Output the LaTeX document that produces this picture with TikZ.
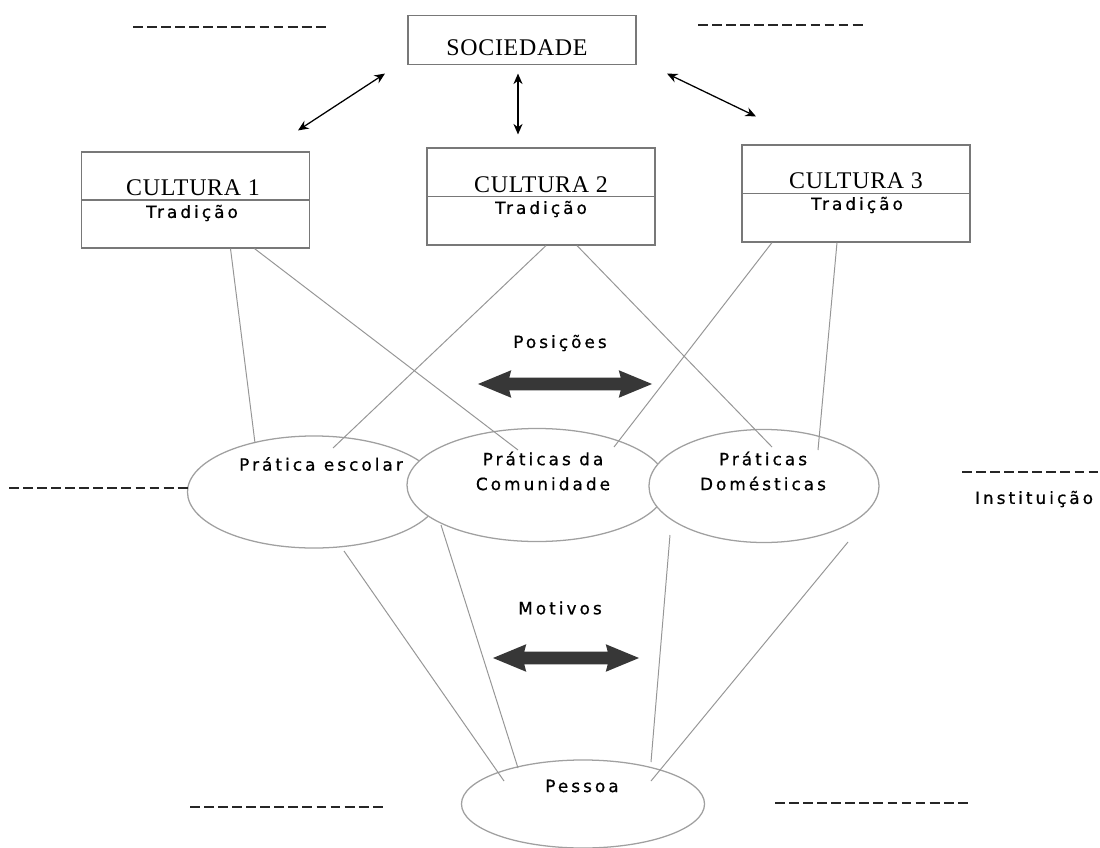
\documentclass[tikz,border=0pt]{standalone}
\usepackage{fontspec}
\setmainfont{Liberation Serif}[LetterSpace=3]
\newfontfamily\tagfont{DejaVu Sans}[LetterSpace=18,FakeBold=0.8]
\usepackage{tikz}
\usetikzlibrary{calc,arrows.meta,shapes.geometric,shapes.arrows}
\definecolor{boxgray}{RGB}{120,120,120}
\definecolor{linegray}{RGB}{150,150,150}
\definecolor{ringgray}{RGB}{160,160,160}
\definecolor{arrowdark}{RGB}{55,55,55}

\begin{document}
\begin{tikzpicture}[x=0.025cm,y=-0.025cm,
    box/.style={draw=boxgray,line width=0.8pt,minimum width=5.7cm,inner sep=0pt},
    ring/.style={ellipse,draw=ringgray,line width=0.9pt,fill=white,inner sep=0pt},
    link/.style={draw=linegray,line width=0.7pt},
    tie/.style={{Stealth[length=7.5pt,width=6.5pt]}-{Stealth[length=7.5pt,width=6.5pt]},line width=0.9pt},
    fat/.style={double arrow,fill=arrowdark,inner xsep=0pt,inner ysep=0.15cm,
        minimum width=0.675cm,double arrow head extend=0.1875cm,
        double arrow tip angle=45,double arrow head indent=0.05cm},
    serif/.style={font=\fontsize{17}{20}\selectfont},
    tag/.style={font=\tagfont\fontsize{12}{17.7}\selectfont,align=center},
    fillin/.style={line width=1.1pt,draw=black!85,dash pattern=on 7pt off 3pt}]
    \useasboundingbox (0,0) rectangle (1100,848);
    % topo
    \node[box,minimum height=1.225cm] (soc) at (522,40) {};
    \node[serif] (soctext) at (517,48) {SOCIEDADE};
    \node[box,minimum height=2.4cm] (c1) at (195.5,200) {};
    \node[box,minimum height=2.425cm] (c2) at (541,196.5) {};
    \node[box,minimum height=2.425cm] (c3) at (856,193.5) {};
    \foreach \c in {c1,c2,c3}
        \draw[draw=boxgray,line width=0.8pt] (\c.west) -- (\c.east);
    \node[serif] (c1name) at (193,188) {CULTURA 1};
    \node[serif] (c2name) at (541,184.5) {CULTURA 2};
    \node[serif] (c3name) at (856,181) {CULTURA 3};
    \node[tag] (c1trad) at (192,213) {Tradição};
    \node[tag] (c2trad) at (541,209) {Tradição};
    \node[tag] (c3trad) at (857,205) {Tradição};
    \draw[tie] ($(soc.south)+(-137,8.5)$) -- ($(c1.north)+(102.5,-21)$);
    \draw[tie] ($(soc.south)+(-4,8.5)$) -- ($(c2.north)+(-23,-13)$);
    \draw[tie] ($(soc.south)+(145,8.5)$) -- ($(c3.north)+(-100,-28)$);
    % praticas
    \node[ring,minimum width=6.325cm,minimum height=2.8cm] (escolar) at (314,492) {};
    \node[ring,minimum width=6.5cm,minimum height=2.825cm] (comunidade) at (537,485) {};
    \node[ring,minimum width=5.75cm,minimum height=2.825cm] (domesticas) at (764,486) {};
    \node[ring,minimum width=6.075cm,minimum height=2.2cm] (pessoa) at (583,804) {};
    \draw[link] ($(c1.south)+(35,0)$) -- ($(escolar.center)+(-59,-49)$);
    \draw[link] ($(c1.south)+(59,0)$) -- ($(comunidade.center)+(-19,-35)$);
    \draw[link] ($(c2.south)+(5,0)$) -- ($(escolar.center)+(19,-44)$);
    \draw[link] ($(c2.south)+(36,0)$) -- ($(domesticas.center)+(8,-39)$);
    \draw[link] ($(c3.south)+(-84,0)$) -- ($(comunidade.center)+(77,-38)$);
    \draw[link] ($(c3.south)+(-19,0)$) -- ($(domesticas.center)+(54,-36)$);
    \draw[link] ($(escolar.center)+(30,59)$) -- ($(pessoa.center)+(-79,-23)$);
    \draw[link] ($(comunidade.center)+(-96,40)$) -- ($(pessoa.center)+(-65,-36)$);
    \draw[link] ($(domesticas.center)+(-94,49)$) -- ($(pessoa.center)+(68,-42)$);
    \draw[link] ($(domesticas.center)+(84,56)$) -- ($(pessoa.center)+(68,-23)$);
    \node[tag] (escolartext) at (321,464) {Prática escolar};
    \node[tag] (comtext) at (543,471) {Práticas da\\Comunidade};
    \node[tag] (domtext) at (763,471) {Práticas\\Domésticas};
    \node[tag] (pessoatext) at (582,786) {Pessoa};
    \node[tag] (posicoes) at (560,343) {Posições};
    \node[tag] (motivos) at (560,608) {Motivos};
    \node[tag,anchor=west] (instituicao) at (970,499) {Instituição};
    \node[fat,minimum height=4.35cm] (posarrow) at (565,384) {};
    \node[fat,minimum height=3.65cm] (motarrow) at (566,658) {};
    % tracejados
    \draw[fillin] (133,27) -- (326,27);
    \draw[fillin] (698,25) -- (863,25);
    \draw[fillin] (9,488) -- (188,488);
    \draw[fillin] (962,472) -- (1099,472);
    \draw[fillin] (190,807) -- (383,807);
    \draw[fillin] (775,803) -- (968,803);
\end{tikzpicture}
\end{document}
